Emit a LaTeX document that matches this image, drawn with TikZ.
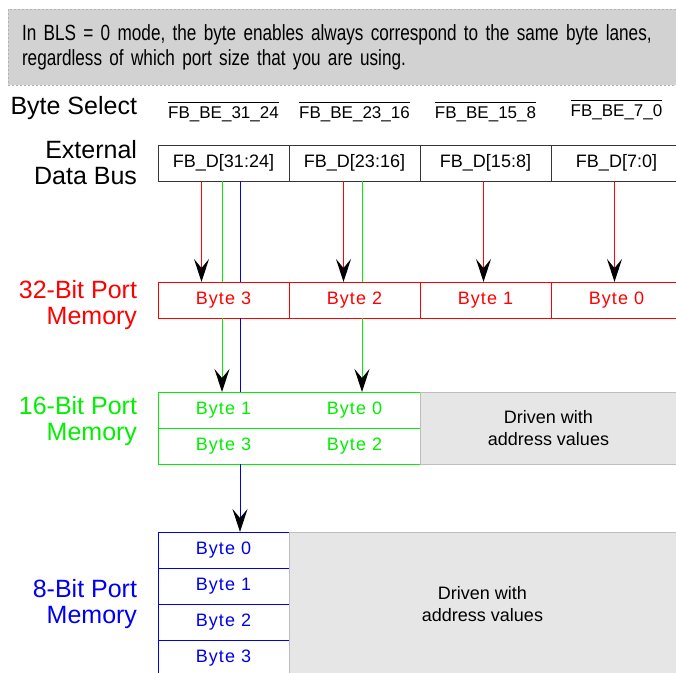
\documentclass[tikz,border=0pt]{standalone}
\usepackage{fontspec}
\setmainfont{Liberation Sans}
\newfontfamily\narrowfont[FakeStretch=0.78]{Liberation Sans}
\newfontfamily\bytefont[LetterSpace=6]{Liberation Sans}
\usetikzlibrary{arrows.meta, positioning}
\definecolor{LaneRed}{HTML}{FF0000}
\definecolor{LaneGreen}{HTML}{00F000}
\definecolor{LaneBlue}{HTML}{0000F0}
\definecolor{Black90}{HTML}{363636}
\definecolor{NoteGray}{HTML}{D2D2D2}
\definecolor{AddrGray}{HTML}{E6E6E6}
\definecolor{AddrEdge}{HTML}{BDBDBD}
\newcommand{\barred}[1]{\leavevmode\vbox{\hrule height 0.9pt\kern 4pt\hbox{#1}}}

\begin{document}
\begin{tikzpicture}[
    x=1pt, y=-1pt,
    every node/.style={font=\fontsize{18}{21}\selectfont, inner sep=0pt, outer sep=0pt},
    note/.style={rectangle, fill=NoteGray, draw=gray!60, dash pattern=on 2pt off 2pt, line width=0.8pt, minimum width=670pt, minimum height=76pt, text width=642pt, align=left, font=\narrowfont\fontsize{22}{25}\selectfont},
    side/.style={anchor=east, align=right, font=\fontsize{25}{26}\selectfont},
    sel/.style={font=\fontsize{17}{19}\selectfont},
    buscell/.style={rectangle, draw=Black90, fill=white, minimum width=131pt, minimum height=36pt, line width=0.9pt},
    cell32/.style={buscell, draw=LaneRed, text=LaneRed, font=\bytefont\fontsize{18}{20}\selectfont},
    cell16/.style={buscell, draw=none, text=LaneGreen, font=\bytefont\fontsize{18}{20}\selectfont},
    cell8/.style={buscell, draw=LaneBlue, text=LaneBlue, font=\bytefont\fontsize{18}{20}\selectfont},
    addr/.style={rectangle, draw=AddrEdge, fill=AddrGray, align=center, line width=0.8pt, font=\fontsize{18}{22}\selectfont},
    lanetip/.style={-{Stealth[length=23pt, width=15pt, inset=9pt, black]}},
    redline/.style={draw=LaneRed, draw opacity=0.99, line width=1.4pt},
    greenline/.style={draw=LaneGreen, line width=1pt},
    blueline/.style={draw=LaneBlue, line width=1pt}
]
\useasboundingbox (0,0) rectangle (676,672);

% Note
\node[note] (note) at (343,47) {In BLS = 0 mode, the byte enables always correspond to the same byte lanes,\\regardless of which port size that you are using.};

% External data bus
\node[buscell] (bus1) at (223.5,163) {FB\_D[31:24]};
\node[buscell, right=0pt of bus1] (bus2) {FB\_D[23:16]};
\node[buscell, right=0pt of bus2] (bus3) {FB\_D[15:8]};
\node[buscell, right=0pt of bus3] (bus4) {FB\_D[7:0]};

% Byte select
\node[sel, above=23pt of bus1] (be1) {\barred{FB\_BE\_31\_24}};
\node[sel, above=23pt of bus2] (be2) {\barred{FB\_BE\_23\_16}};
\node[sel, above=23pt of bus3] (be3) {\barred{FB\_BE\_15\_8}};
\node[sel, above=25pt of bus4] (be4) {\barred{FB\_BE\_7\_0}};

% 32-bit port
\node[cell32] (b32a) at (223.5,300) {Byte 3};
\node[cell32, right=0pt of b32a] (b32b) {Byte 2};
\node[cell32, right=0pt of b32b] (b32c) {Byte 1};
\node[cell32, right=0pt of b32c] (b32d) {Byte 0};

% 16-bit port
\node[cell16] (b16a) at (223.5,410) {Byte 1};
\node[cell16, right=0pt of b16a] (b16b) {Byte 0};
\node[cell16, below=0pt of b16a] (b16c) {Byte 3};
\node[cell16, right=0pt of b16c] (b16d) {Byte 2};
\draw[LaneGreen, line width=0.9pt] (b16a.north west) rectangle (b16d.south east);
\draw[LaneGreen, line width=0.9pt] (b16a.south west) -- (b16b.south east);
\node[addr, minimum width=257pt, minimum height=72pt, anchor=north west] (drv16) at (b16b.north east) {Driven with\\address values};

% 8-bit port
\node[cell8] (b8a) at (223.5,550) {Byte 0};
\node[cell8, below=0pt of b8a] (b8b) {Byte 1};
\node[cell8, below=0pt of b8b] (b8c) {Byte 2};
\node[cell8, below=0pt of b8c] (b8d) {Byte 3};
\node[addr, minimum width=387pt, minimum height=144pt, anchor=north west] (drv8) at (b8a.north east) {Driven with\\address values};

% Side labels
\node[side] (selLabel) at (137,108) {Byte Select};
\node[side] (busLabel) at (137,163) {External\\Data Bus};
\node[side, text=LaneRed] (lab32) at (137,305) {32-Bit Port\\Memory};
\node[side, text=LaneGreen] (lab16) at (137,421) {16-Bit Port\\Memory};
\node[side, text=LaneBlue] (lab8) at (137,604) {8-Bit Port\\Memory};

% Byte lanes, 32-bit port
\draw[redline, lanetip] ([xshift=-22pt]bus1.south) -- ([xshift=-22pt]b32a.north);
\draw[redline, lanetip] ([xshift=-11pt]bus2.south) -- ([xshift=-11pt]b32b.north);
\draw[redline, lanetip] ([xshift=-2pt]bus3.south) -- ([xshift=-2pt]b32c.north);
\draw[redline, lanetip] ([xshift=-2pt]bus4.south) -- ([xshift=-2pt]b32d.north);

% Byte lanes, 16-bit port
\draw[greenline] ([xshift=-1.5pt]bus1.south) -- ([xshift=-1.5pt]b32a.north);
\draw[greenline, lanetip] ([xshift=-1.5pt]b32a.south) -- ([xshift=-1.5pt]b16a.north);
\draw[greenline] ([xshift=7.5pt]bus2.south) -- ([xshift=7.5pt]b32b.north);
\draw[greenline, lanetip] ([xshift=7.5pt]b32b.south) -- ([xshift=7.5pt]b16b.north);

% Byte lane, 8-bit port
\draw[blueline] ([xshift=16.5pt]bus1.south) -- ([xshift=16.5pt]b32a.north);
\draw[blueline] ([xshift=16.5pt]b32a.south) -- ([xshift=16.5pt]b16a.north);
\draw[blueline, lanetip] ([xshift=16.5pt]b16c.south) -- ([xshift=16.5pt]b8a.north);

\end{tikzpicture}
\end{document}
